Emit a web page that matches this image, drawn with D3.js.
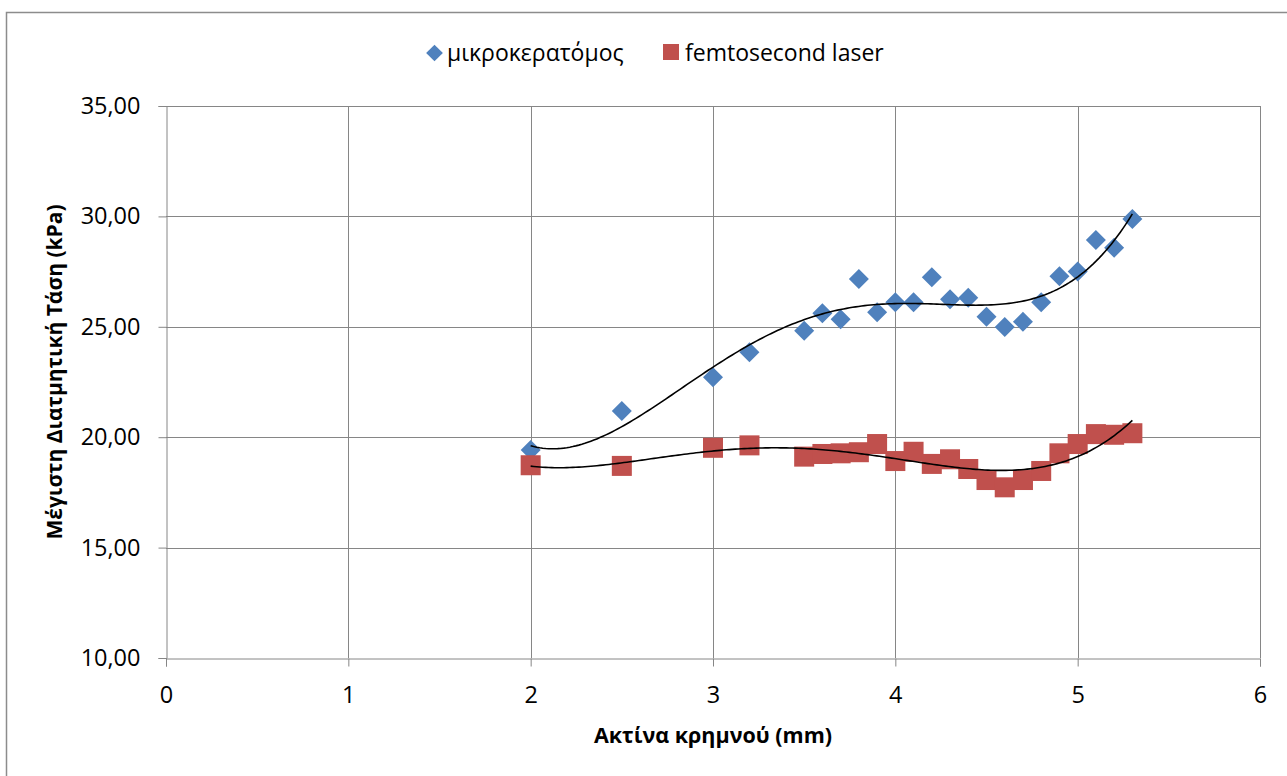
<!DOCTYPE html>
<html><head><meta charset="utf-8">
<script src="https://cdn.jsdelivr.net/npm/d3@7"></script>
<style>body{margin:0;background:#fff}svg{display:block}text{font-family:"Open Sans",sans-serif}</style>
</head><body>
<script>
const xMicro = [2.0,2.5,3.0,3.2,3.5,3.6,3.7,3.8,3.9,4.0,4.1,4.2,4.3,4.4,4.5,4.6,4.7,4.8,4.9,5.0,5.1,5.2,5.3];
const yMicro = [19.42,21.19,22.72,23.85,24.82,25.61,25.34,27.16,25.66,26.11,26.11,27.24,26.25,26.32,25.46,24.99,25.23,26.11,27.29,27.51,28.93,28.58,29.88];
const xFemto = [2.0,2.5,3.0,3.2,3.5,3.6,3.7,3.8,3.9,4.0,4.1,4.2,4.3,4.4,4.5,4.6,4.7,4.8,4.9,5.0,5.1,5.2,5.3];
const yFemto = [18.73,18.70,19.52,19.63,19.12,19.24,19.27,19.32,19.69,18.92,19.34,18.79,19.00,18.56,18.06,17.73,18.06,18.47,19.27,19.69,20.14,20.11,20.18];
const xTicks = [0,1,2,3,4,5,6];
const yTicks = [10,15,20,25,30,35];
const seriesNames = ["μικροκερατόμος","femtosecond laser"];
const xTitle = "Ακτίνα κρημνού (mm)";
const yTitle = "Μέγιστη Διατμητική Τάση (kPa)";
const trendOrder = 4;

const W=1287,H=776;
const FONT="'Open Sans',sans-serif";
const svg=d3.select("body").append("svg").attr("width",W).attr("height",H);
svg.append("rect").attr("x",6.5).attr("y",12.5).attr("width",1290).attr("height",780)
  .attr("fill","#fff").attr("stroke","#8c8c8c").attr("stroke-width",1.5);

const L=166,R=1260,T=106,B=658;
const x=d3.scaleLinear().domain([0,6]).range([L,R]);
const y=d3.scaleLinear().domain([10,35]).range([B,T]);
const grid="#868686";
svg.append("g").selectAll("line").data(xTicks.filter(d=>d>0)).join("line")
  .attr("x1",d=>Math.round(x(d))+0.5).attr("x2",d=>Math.round(x(d))+0.5).attr("y1",T).attr("y2",B).attr("stroke",grid);
svg.append("g").selectAll("line").data(yTicks.filter(d=>d>10)).join("line")
  .attr("y1",d=>Math.round(y(d))+0.5).attr("y2",d=>Math.round(y(d))+0.5).attr("x1",L).attr("x2",R).attr("stroke",grid);

const fmt=d=>d.toFixed(2).replace(".",",");
const xa=svg.append("g").attr("transform",`translate(0,${Math.round(B)+0.5})`)
  .call(d3.axisBottom(x).tickValues(xTicks).tickSize(8).tickPadding(20).tickFormat(d3.format("d")));
const ya=svg.append("g").attr("transform",`translate(${L+0.5},0)`)
  .call(d3.axisLeft(y).tickValues(yTicks).tickSize(8).tickPadding(18).tickFormat(fmt));
[xa,ya].forEach(a=>{a.attr("font-family",FONT).attr("font-size",23.5);
  a.select(".domain").attr("stroke",grid);a.selectAll(".tick line").attr("stroke",grid);
  a.selectAll("text").attr("fill","#000");});

function polyfit(xs,ys,n){
  const mx=d3.mean(xs), sx=d3.deviation(xs);
  const u=xs.map(v=>(v-mx)/sx);
  const m=n+1, A=Array.from({length:m},()=>new Array(m+1).fill(0));
  for(let i=0;i<u.length;i++){
    for(let r=0;r<m;r++){ for(let c=0;c<m;c++) A[r][c]+=Math.pow(u[i],r+c); A[r][m]+=ys[i]*Math.pow(u[i],r);}
  }
  for(let c=0;c<m;c++){
    let p=c; for(let r=c+1;r<m;r++) if(Math.abs(A[r][c])>Math.abs(A[p][c])) p=r;
    [A[c],A[p]]=[A[p],A[c]];
    for(let r=0;r<m;r++){ if(r===c) continue; const f=A[r][c]/A[c][c]; for(let k=c;k<=m;k++) A[r][k]-=f*A[c][k]; }
  }
  const coef=A.map((row,i)=>row[m]/row[i]);
  return v=>{const t=(v-mx)/sx; let s=0; for(let i=m-1;i>=0;i--) s=s*t+coef[i]; return s;};
}
const line=d3.line().x(d=>x(d[0])).y(d=>y(d[1]));
function trend(xs,ys){
  const f=polyfit(xs,ys,trendOrder);
  const lo=d3.min(xs),hi=d3.max(xs);
  const pts=d3.range(0,201).map(i=>{const v=lo+(hi-lo)*i/200; return [v,f(v)];});
  svg.append("path").attr("d",line(pts)).attr("fill","none").attr("stroke","#000").attr("stroke-width",1.6);
}

const blue="#4F81BD", red="#C0504D";
svg.append("g").selectAll("path").data(d3.zip(xMicro,yMicro)).join("path")
  .attr("d",d3.symbol(d3.symbolSquare,200)).attr("fill",blue)
  .attr("transform",d=>`translate(${x(d[0])},${y(d[1])}) rotate(45)`);
svg.append("g").selectAll("rect").data(d3.zip(xFemto,yFemto)).join("rect")
  .attr("x",d=>x(d[0])-10).attr("y",d=>y(d[1])-10).attr("width",20).attr("height",20).attr("fill",red);
trend(xMicro,yMicro);
trend(xFemto,yFemto);

const lg=svg.append("g").attr("font-family",FONT).attr("font-size",23);
lg.append("path").attr("d",d3.symbol(d3.symbolSquare,140)).attr("fill",blue).attr("transform","translate(434.5,53) rotate(45)");
lg.append("text").attr("x",447).attr("y",61).text(seriesNames[0]);
lg.append("rect").attr("x",663).attr("y",44).attr("width",16).attr("height",16).attr("fill",red);
lg.append("text").attr("x",685).attr("y",61).text(seriesNames[1]);

svg.append("text").attr("x",713).attr("y",743).attr("text-anchor","middle").attr("font-family",FONT)
  .attr("font-weight","bold").attr("font-size",21.5).text(xTitle);
svg.append("text").attr("transform","translate(62,372) rotate(-90)").attr("text-anchor","middle").attr("font-family",FONT)
  .attr("font-weight","bold").attr("font-size",21).text(yTitle);
</script>
</body></html>
